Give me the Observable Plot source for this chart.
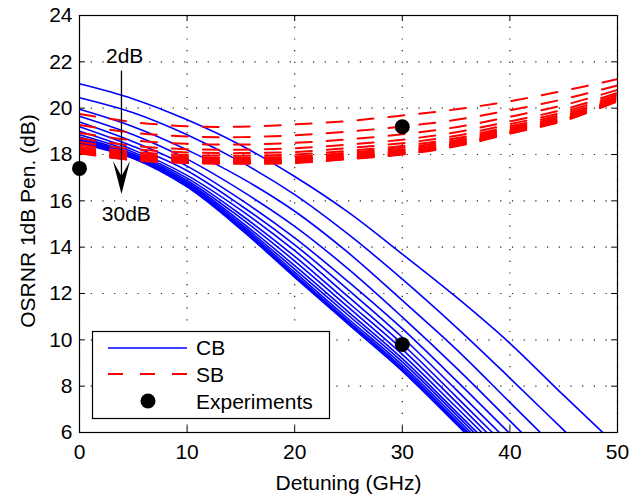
<!DOCTYPE html>
<html>
<head>
<meta charset="utf-8">
<script src="https://cdn.jsdelivr.net/npm/d3@7"></script>
<script src="https://cdn.jsdelivr.net/npm/@observablehq/plot@0.6"></script>
<style>
  html, body { margin: 0; padding: 0; background: #fff; }
  #chart { width: 641px; height: 497px; }
</style>
</head>
<body>
<div id="chart"></div>
<script>
// ---- data ----
const detuningGHz = [0, 5, 10, 15, 20, 25, 30, 35, 40, 45, 50];
const levelsDB = [2, 4, 6, 8, 10, 12, 14, 16, 18, 20, 22, 24, 26, 28, 30];

// CB (solid blue): OSRNR 1dB penalty per level, at detuningGHz
const cbPenalty = [
  [21.05, 20.4, 19.5, 18.4, 17.05, 15.5, 13.7, 11.85, 9.85, 7.6, 5.4],
  [20.45, 19.8, 18.85, 17.68, 16.27, 14.55, 12.62, 10.55, 8.35, 6.1, 3.85],
  [19.95, 19.2, 18.2, 17.0, 15.55, 13.75, 11.7, 9.6, 7.3, 5.0, 2.7],
  [19.65, 18.85, 17.8, 16.45, 14.9, 13.05, 10.98, 8.8, 6.5, 4.2, 1.9],
  [19.4, 18.55, 17.5, 16.05, 14.4, 12.5, 10.48, 8.25, 5.95, 3.65, 1.35],
  [19.2, 18.35, 17.3, 15.8, 14.1, 12.15, 10.11, 7.85, 5.55, 3.25, 0.95],
  [19.0, 18.2, 17.1, 15.6, 13.85, 11.85, 9.82, 7.55, 5.25, 2.95, 0.65],
  [18.85, 18.1, 16.98, 15.4, 13.6, 11.6, 9.59, 7.32, 5.0, 2.7, 0.4],
  [18.75, 18.02, 16.88, 15.25, 13.4, 11.4, 9.37, 7.1, 4.8, 2.5, 0.2],
  [18.68, 17.97, 16.8, 15.1, 13.2, 11.2, 9.19, 6.9, 4.6, 2.3, 0.0],
  [18.62, 17.93, 16.74, 15.0, 13.05, 11.05, 9.05, 6.77, 4.45, 2.15, -0.15],
  [18.57, 17.9, 16.69, 14.92, 12.92, 10.9, 8.91, 6.63, 4.3, 2.0, -0.3],
  [18.53, 17.87, 16.66, 14.86, 12.82, 10.8, 8.8, 6.52, 4.2, 1.9, -0.4],
  [18.5, 17.85, 16.63, 14.81, 12.76, 10.73, 8.72, 6.44, 4.12, 1.82, -0.5],
  [18.47, 17.83, 16.6, 14.77, 12.7, 10.67, 8.65, 6.37, 4.05, 1.75, -0.55]
];

// SB (dashed red)
const sbPenalty = [
  [19.75, 19.4, 19.22, 19.2, 19.3, 19.45, 19.68, 19.95, 20.3, 20.75, 21.25],
  [19.27, 18.94, 18.78, 18.75, 18.83, 18.99, 19.21, 19.5, 19.91, 20.39, 20.98],
  [18.93, 18.61, 18.46, 18.43, 18.5, 18.66, 18.87, 19.18, 19.63, 20.13, 20.79],
  [18.7, 18.38, 18.23, 18.21, 18.27, 18.43, 18.64, 18.96, 19.43, 19.94, 20.66],
  [18.54, 18.23, 18.09, 18.06, 18.11, 18.28, 18.49, 18.81, 19.31, 19.83, 20.58],
  [18.42, 18.11, 17.98, 17.95, 18.0, 18.16, 18.37, 18.7, 19.21, 19.74, 20.51],
  [18.34, 18.03, 17.9, 17.87, 17.91, 18.08, 18.29, 18.62, 19.14, 19.67, 20.46],
  [18.27, 17.97, 17.84, 17.81, 17.85, 18.02, 18.22, 18.56, 19.08, 19.62, 20.42],
  [18.22, 17.92, 17.79, 17.76, 17.8, 17.97, 18.17, 18.51, 19.04, 19.58, 20.4],
  [18.18, 17.87, 17.75, 17.72, 17.76, 17.92, 18.13, 18.47, 19.01, 19.55, 20.37],
  [18.14, 17.84, 17.72, 17.69, 17.72, 17.89, 18.09, 18.44, 18.98, 19.52, 20.35],
  [18.11, 17.81, 17.69, 17.66, 17.69, 17.86, 18.06, 18.41, 18.95, 19.5, 20.33],
  [18.08, 17.78, 17.66, 17.63, 17.66, 17.83, 18.03, 18.38, 18.93, 19.48, 20.32],
  [18.07, 17.77, 17.65, 17.62, 17.65, 17.82, 18.02, 18.37, 18.91, 19.46, 20.31],
  [18.05, 17.75, 17.63, 17.6, 17.63, 17.8, 18.0, 18.35, 18.9, 19.45, 20.3]
];

// Experiments
const expDetuning = [0, 30, 30];
const expPenalty = [17.4, 19.2, 9.8];

// Axes
const xTicks = [0, 10, 20, 30, 40, 50];
const yTicks = [6, 8, 10, 12, 14, 16, 18, 20, 22, 24];
const xLabel = "Detuning (GHz)";
const yLabel = "OSRNR 1dB Pen. (dB)";
const legendLabels = ["CB", "SB", "Experiments"];

// Annotation (arrow from 2dB to 30dB)
const arrowX = 3.9, arrowTop = 21.62, arrowNotch = 16.9, arrowTip = 16.3;
const annoTexts = [
  {text: "2dB", x: 4.2, y: 22.25},
  {text: "30dB", x: 4.35, y: 15.42}
];

// ---- tidy rows ----
const toRows = (table) => table.flatMap((vals, i) =>
  vals.map((v, j) => ({x: detuningGHz[j], y: v, level: levelsDB[i]})));
const cbRows = toRows(cbPenalty);
const sbRows = toRows(sbPenalty);
const expRows = expDetuning.map((x, i) => ({x, y: expPenalty[i]}));

const FONT = "'Liberation Sans', Arial, Helvetica, sans-serif";
const FS = 21;

const arrowHead = {
  draw(ctx) {
    ctx.moveTo(0, 0);
    ctx.lineTo(-8.5, -33);
    ctx.lineTo(0, -18);
    ctx.lineTo(8.5, -33);
    ctx.closePath();
  }
};

const plot = Plot.plot({
  width: 641,
  height: 497,
  marginLeft: 79,
  marginRight: 24,
  marginTop: 15,
  marginBottom: 65,
  style: {fontFamily: FONT, fontSize: FS + "px", background: "#fff", color: "#000"},
  x: {domain: [0, 50], ticks: xTicks, label: null},
  y: {domain: [6, 24], ticks: yTicks, label: null},
  marks: [
    Plot.gridX(xTicks, {stroke: "#222", strokeOpacity: 1, strokeWidth: 1.2, strokeDasharray: "1.2,10.5"}),
    Plot.gridY(yTicks, {stroke: "#222", strokeOpacity: 1, strokeWidth: 1.2, strokeDasharray: "1.2,10.5"}),
    // inward ticks on all four sides
    Plot.ruleX(xTicks, {y1: 6, y2: 6.26, stroke: "#000"}),
    Plot.ruleX(xTicks, {y1: 24, y2: 23.74, stroke: "#000"}),
    Plot.ruleY(yTicks, {x1: 0, x2: 0.55, stroke: "#000"}),
    Plot.ruleY(yTicks, {x1: 50, x2: 49.45, stroke: "#000"}),
    Plot.axisX(xTicks, {tickSize: 0, tickPadding: 12, fontSize: FS, label: null}),
    Plot.axisY(yTicks, {tickSize: 0, tickPadding: 7, fontSize: FS, label: null}),
    Plot.line(cbRows, {x: "x", y: "y", z: "level", stroke: "#0000ff", strokeWidth: 1.6, curve: "catmull-rom", clip: true}),
    Plot.line(sbRows, {x: "x", y: "y", z: "level", stroke: "#ff0000", strokeWidth: 2, strokeDasharray: "16,15", curve: "catmull-rom", clip: true}),
    Plot.frame({stroke: "#000", strokeWidth: 1.2}),
    Plot.dot(expRows, {x: "x", y: "y", r: 7.5, fill: "#000", stroke: null}),
    // arrow annotation
    Plot.link([0], {x1: () => arrowX, x2: () => arrowX, y1: () => arrowTop, y2: () => arrowNotch, stroke: "#000", strokeWidth: 1.3}),
    Plot.dot([0], {x: () => arrowX, y: () => arrowTip, symbol: arrowHead, fill: "#000", stroke: null}),
    Plot.text(annoTexts, {x: "x", y: "y", text: "text", fontSize: FS, fill: "#000"}),
    // axis titles
    Plot.text([xLabel], {frameAnchor: "bottom", dy: 51, textAnchor: "middle", lineAnchor: "middle", fontSize: FS, fill: "#000"}),
    Plot.text([yLabel], {frameAnchor: "left", dx: -51, dy: -3, rotate: -90, textAnchor: "middle", lineAnchor: "middle", fontSize: FS, fill: "#000"})
  ]
});

// ---- legend (inside the plot, lower left) ----
const svg = d3.select(plot);
const lg = svg.append("g").attr("font-family", FONT).attr("font-size", FS)
  .attr("fill", "#000").attr("text-anchor", "start");
lg.append("rect").attr("x", 92.5).attr("y", 331.5).attr("width", 237).attr("height", 87)
  .attr("fill", "#fff").attr("stroke", "#000").attr("stroke-width", 1.2);
lg.append("line").attr("x1", 108).attr("x2", 187).attr("y1", 348).attr("y2", 348)
  .attr("stroke", "#0000ff").attr("stroke-width", 1.6);
lg.append("line").attr("x1", 108).attr("x2", 187).attr("y1", 374).attr("y2", 374)
  .attr("stroke", "#ff0000").attr("stroke-width", 2).attr("stroke-dasharray", "15,17");
lg.append("circle").attr("cx", 148).attr("cy", 401).attr("r", 7.5).attr("fill", "#000");
[348, 375, 402].forEach((y, i) => {
  lg.append("text").attr("x", 196).attr("y", y).attr("dy", "0.35em")
    .attr("text-anchor", "start").text(legendLabels[i]);
});

document.getElementById("chart").appendChild(plot);
</script>
</body>
</html>
